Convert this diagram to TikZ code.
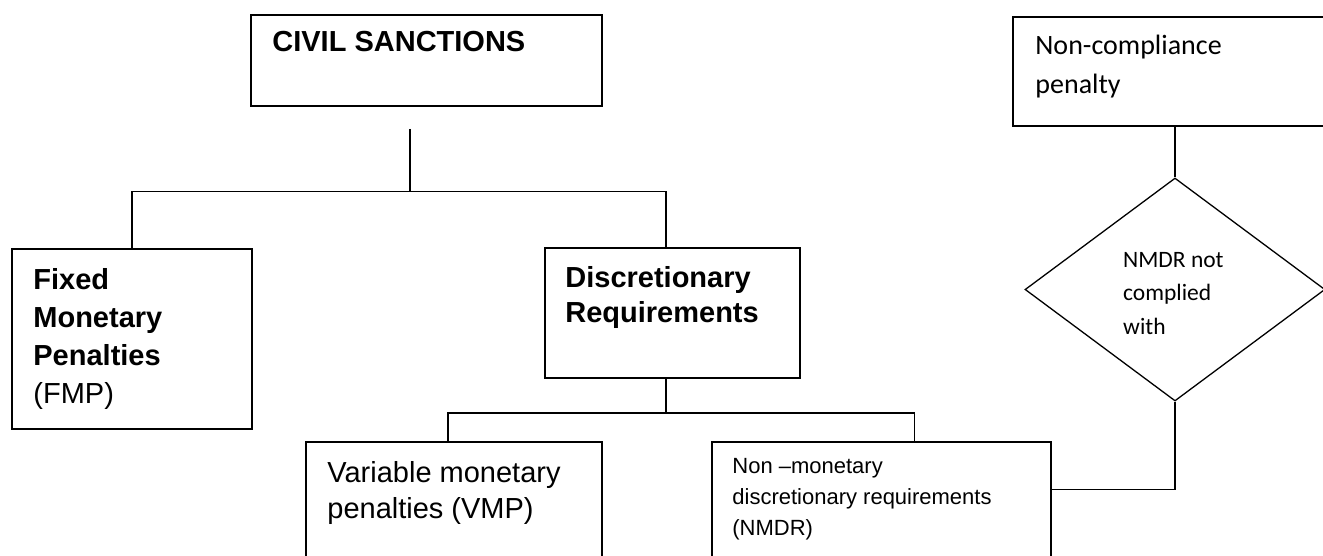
\documentclass[tikz,border=0pt]{standalone}
\usepackage{fontspec}
\setmainfont{Liberation Sans}
\newfontfamily\calibri{Carlito}
\usetikzlibrary{shapes.geometric}

\begin{document}
\begin{tikzpicture}[
  x=1pt, y=-1pt,
  box/.style={draw, line width=1.6pt, rectangle, inner sep=0pt},
  decision/.style={draw, line width=1.3pt, diamond, inner sep=0pt, minimum width=300pt, minimum height=223pt},
  link/.style={draw, line width=1.2pt},
  txt/.style={inner sep=0pt, anchor=north west, align=left},
  bigtext/.style={font=\fontsize{29}{38}\selectfont},
  smalltext/.style={font=\fontsize{22}{31}\selectfont},
  caltext/.style={font=\calibri\fontsize{28}{39}\selectfont},
  calsmall/.style={font=\calibri\fontsize{23.5}{33.5}\selectfont}
]
\useasboundingbox (0,0) rectangle (1323,555);
\clip (0,0) rectangle (1323,555);

% top
\node[box, minimum width=351pt, minimum height=91pt] (civil) at (426.5,60.5) {};
\node[txt, bigtext] (civiltext) at ([shift={(22,17)}]civil.north west) {\bfseries CIVIL SANCTIONS};

% level 1
\node[box, minimum width=240pt, minimum height=180pt] (fixed) at (132,339) {};
\node[txt, bigtext] (fixedtext) at ([shift={(22,20)}]fixed.north west)
  {\textbf{Fixed}\\\textbf{Monetary}\\\textbf{Penalties}\\(FMP)};
\node[box, minimum width=255pt, minimum height=130pt] (disc) at (672.5,313) {};
\node[txt, font=\fontsize{29}{35.5}\selectfont\bfseries] (disctext) at ([shift={(21,19)}]disc.north west)
  {Discretionary\\Requirements};

% level 2
\node[box, minimum width=296pt, minimum height=133pt] (vmp) at (454,508.5) {};
\node[txt, font=\fontsize{29}{36}\selectfont] (vmptext) at ([shift={(22,20)}]vmp.north west)
  {Variable monetary\\penalties (VMP)};
\node[box, minimum width=339pt, minimum height=133pt] (nmdr) at (881.5,508.5) {};
\node[txt, smalltext] (nmdrtext) at ([shift={(21,17)}]nmdr.north west)
  {Non --monetary\\discretionary requirements\\(NMDR)};

% right side
\node[box, minimum width=324pt, minimum height=109pt] (noncomp) at (1175,71.5) {};
\node[txt, caltext] (noncomptext) at ([shift={(23,19)}]noncomp.north west)
  {Non-compliance\\penalty};
\node[decision] (check) at (1175,289.5) {};
\node[txt, calsmall] (checktext) at ([shift={(-52,-37.5)}]check.center)
  {NMDR not\\complied\\with};

\coordinate (hub1) at (410,191.5);
\coordinate (hub2) at (666,413);

\draw[link] ([shift={(-16.5,22)}]civil.south) -- (hub1);
\draw[link] (fixed.north) |- (hub1) -| ([xshift=-6.5pt]disc.north);
\draw[link] ([xshift=-6.5pt]disc.south) -- (hub2);
\draw[link] ([xshift=-6pt]vmp.north) |- (hub2) -| ([xshift=33pt]nmdr.north);
\draw[link] (noncomp.south) -- (check.north);
\draw[link] (check.south) |- ([yshift=19pt]nmdr.east);
\end{tikzpicture}
\end{document}
